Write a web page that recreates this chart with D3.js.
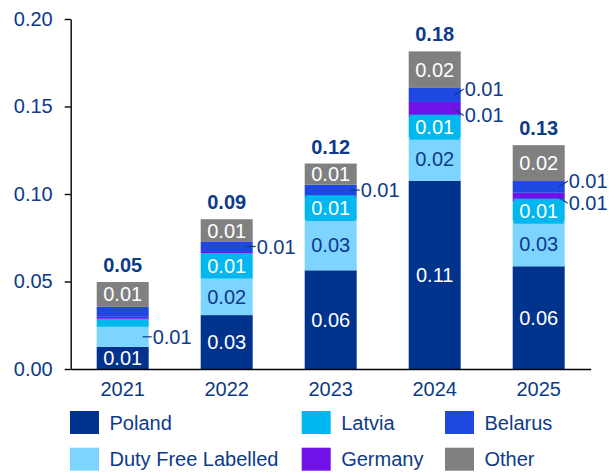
<!DOCTYPE html>
<html><head><meta charset="utf-8">
<script src="https://cdn.jsdelivr.net/npm/d3@7"></script>
<style>
html,body{margin:0;padding:0;background:#fff;}
svg{display:block;font-family:"Liberation Sans",Arial,sans-serif;}
</style></head>
<body>
<svg id="chart" width="609" height="473"></svg>
<script>
const years = ["2021","2022","2023","2024","2025"];
const poland   = [0.0127, 0.0308, 0.0564, 0.1076, 0.0587];
const dutyFree = [0.0114, 0.0209, 0.0290, 0.0247, 0.0260];
const latvia   = [0.0046, 0.0146, 0.0127, 0.0118, 0.0110];
const germany  = [0.0011, 0.0011, 0.0010, 0.0085, 0.0050];
const belarus  = [0.0057, 0.0052, 0.0063, 0.0080, 0.0067];
const other    = [0.0142, 0.0130, 0.0120, 0.0209, 0.0205];
const yTicks = [0, 0.05, 0.10, 0.15, 0.20];
// label placement per segment: "in" inside, "out" callout, "" none
const polandLabels   = ["in","in","in","in","in"];
const dutyFreeLabels = ["out","in","in","in","in"];
const latviaLabels   = ["","in","in","in","in"];
const germanyLabels  = ["","","","out","out"];
const belarusLabels  = ["","out","out","out","out"];
const otherLabels    = ["in","in","in","in","in"];

const seriesDefs = [
  {key:"Poland", values:poland, labels:polandLabels, color:"#00338D", text:"#ffffff"},
  {key:"Duty Free Labelled", values:dutyFree, labels:dutyFreeLabels, color:"#7DD4FF", text:"#0E3A8A"},
  {key:"Latvia", values:latvia, labels:latviaLabels, color:"#00B7EF", text:"#ffffff", box:true},
  {key:"Germany", values:germany, labels:germanyLabels, color:"#7012E8", text:"#ffffff"},
  {key:"Belarus", values:belarus, labels:belarusLabels, color:"#1F47E2", text:"#ffffff"},
  {key:"Other", values:other, labels:otherLabels, color:"#808080", text:"#ffffff"}
];
const legendOrder = ["Poland","Latvia","Belarus","Duty Free Labelled","Germany","Other"];

const navy = "#0E3A8A";
const fs = 20;
const svg = d3.select("#chart");

const x = d3.scaleBand().domain(years).range([70.7, 590.7]).paddingInner(0.5).paddingOuter(0.25);
const y = d3.scaleLinear().domain([0, 0.2]).range([369, 19]);

const table = years.map((yr,i)=>{
  const o = {year:yr};
  seriesDefs.forEach(s=>o[s.key]=s.values[i]);
  return o;
});
const stacked = d3.stack().keys(seriesDefs.map(s=>s.key))(table);

// bars
stacked.forEach((layer,li)=>{
  const s = seriesDefs[li];
  svg.append("g").selectAll("rect").data(layer).join("rect")
    .attr("x", d=>x(d.data.year))
    .attr("width", x.bandwidth())
    .attr("y", d=>y(d[1]))
    .attr("height", d=>y(d[0])-y(d[1]))
    .attr("fill", s.color);
});

// axes
const yAxis = svg.append("g").attr("transform","translate(70.7,0)")
  .call(d3.axisLeft(y).tickValues(yTicks).tickFormat(d3.format(".2f")).tickSize(6).tickSizeOuter(0).tickPadding(12));
yAxis.select(".domain").attr("stroke","#000").attr("stroke-width",1.4);
yAxis.selectAll(".tick line").attr("stroke","#000").attr("stroke-width",1.4);
yAxis.selectAll("text").attr("fill",navy).style("font-size",fs+"px").style("font-family","Liberation Sans, Arial, sans-serif");

const xAxis = svg.append("g").attr("transform","translate(0,369)")
  .call(d3.axisBottom(x).tickSize(0).tickPadding(13));
xAxis.select(".domain").attr("stroke","#000").attr("stroke-width",1.6);
xAxis.selectAll("text").attr("fill",navy).style("font-size",fs+"px").style("font-family","Liberation Sans, Arial, sans-serif");

// labels
const lab = svg.append("g").style("font-size",fs+"px");
stacked.forEach((layer,li)=>{
  const s = seriesDefs[li];
  layer.forEach((d,i)=>{
    const mode = s.labels[i];
    if(!mode) return;
    const txt = d3.format(".2f")(d[1]-d[0]);
    const cy = (y(d[0])+y(d[1]))/2;
    const bx = x(d.data.year), bw = x.bandwidth();
    if(mode==="in"){
      if(s.box){
        lab.append("rect").attr("x",bx+1).attr("width",bw-2).attr("y",cy-12.5).attr("height",25).attr("fill",s.color);
      }
      lab.append("text").attr("x",bx+bw/2).attr("y",cy+7).attr("text-anchor","middle")
        .attr("fill",s.text).text(txt);
    } else {
      const pair = germanyLabels[i]==="out" && belarusLabels[i]==="out";
      let ty = cy;
      if(pair){ ty = s.key==="Belarus" ? cy-6 : cy+6; }
      const right = bx+bw;
      lab.append("line").attr("x1",right-6).attr("y1",cy).attr("x2",right+3).attr("y2",ty)
        .attr("stroke",navy).attr("stroke-width",1.2);
      lab.append("text").attr("x",right+4).attr("y",ty+7).attr("fill",navy).text(txt);
    }
  });
});

// totals
const topLayer = stacked[stacked.length-1];
lab.selectAll("text.total").data(topLayer).join("text").attr("class","total")
  .attr("x",d=>x(d.data.year)+x.bandwidth()/2)
  .attr("y",d=>y(d[1])-10)
  .attr("text-anchor","middle").attr("fill",navy).attr("font-weight","bold")
  .text(d=>d3.format(".2f")(d[1]));

// legend
const legX = [70, 301.7, 445];
const legY = [411, 447.7];
const leg = svg.append("g");
legendOrder.forEach((k,i)=>{
  const s = seriesDefs.find(q=>q.key===k);
  const col = i%3, row = Math.floor(i/3);
  leg.append("rect").attr("x",legX[col]).attr("y",legY[row]).attr("width",29).attr("height",23).attr("fill",s.color);
  leg.append("text").attr("x",legX[col]+39.5).attr("y",legY[row]+18.5)
    .attr("fill",navy).style("font-size",fs+"px").text(k);
});
</script>
</body></html>
